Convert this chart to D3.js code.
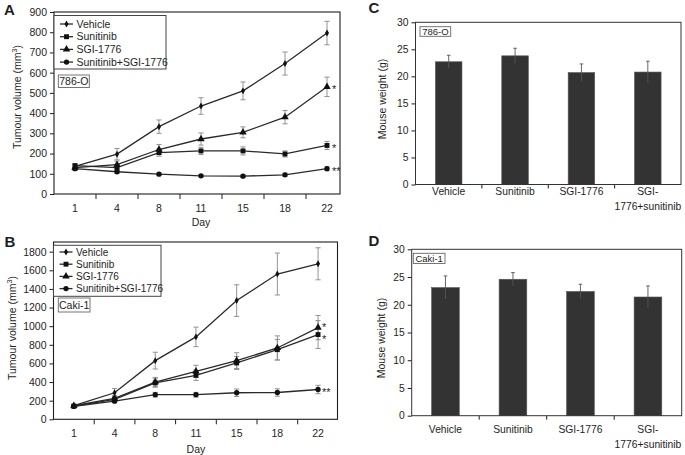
<!DOCTYPE html>
<html><head><meta charset="utf-8">
<script src="https://cdn.jsdelivr.net/npm/d3@7"></script>
<style>
body{margin:0;background:#fff;}
svg{display:block;font-family:"Liberation Sans",Arial,Helvetica,sans-serif;}
</style></head><body>
<svg id="c" width="685" height="455"></svg>
<script>
// ---------- DATA ----------
const days = ["1","4","8","11","15","18","22"];
const seriesNames = ["Vehicle","Sunitinib","SGI-1776","Sunitinib+SGI-1776"];
const tickA = [0,100,200,300,400,500,600,700,800,900];
const tickB = [0,200,400,600,800,1000,1200,1400,1600,1800];
const tickBar = [0,5,10,15,20,25,30];

// Panel A: 786-O tumour volume (mm3)
const aVehicle      = [136,197,333,435,510,645,796];
const aVehicleErr   = [10,28,33,41,44,57,58];
const aSunitinib    = [140,130,205,213,213,198,240];
const aSunitinibErr = [10,14,18,18,20,15,20];
const aSGI          = [130,145,220,272,305,380,530];
const aSGIErr       = [10,18,25,30,27,33,48];
const aCombo        = [125,110,98,90,88,95,125];
const aComboErr     = [8,8,6,6,6,8,10];
const aStars        = ["", "*", "*", "**"];

// Panel B: Caki-1 tumour volume (mm3)
const bVehicle      = [146,285,630,885,1275,1560,1670];
const bVehicleErr   = [15,45,90,105,170,225,172];
const bSunitinib    = [140,215,390,472,605,748,910];
const bSunitinibErr = [15,25,45,55,70,110,150];
const bSGI          = [146,225,400,515,630,766,985];
const bSGIErr       = [15,30,50,65,85,130,130];
const bCombo        = [140,195,264,264,285,288,320];
const bComboErr     = [10,15,25,25,40,40,45];
const bStars        = ["", "*", "*", "**"];

// Panels C/D: mouse weight (g)
const barCategories = ["Vehicle","Sunitinib","SGI-1776","SGI-1776+sunitinib"];
const barLabelLines = [["Vehicle"],["Sunitinib"],["SGI-1776"],["SGI-","1776+sunitinib"]];
const cWeight    = [22.7,23.8,20.7,20.8];
const cWeightErr = [1.2,1.4,1.6,2.0];
const dWeight    = [23.1,24.6,22.4,21.4];
const dWeightErr = [2.1,1.2,1.3,2.0];

// ---------- DRAW ----------
const svg = d3.select("#c");
const INK = "#1e1e1e";
const symbols = [d3.symbolDiamond, d3.symbolSquare, d3.symbolTriangle, d3.symbolCircle];
const symSizes = [14, 24, 24, 22];

function letter(t, x, y){
  svg.append("text").attr("x",x).attr("y",y).attr("font-size",15).attr("font-weight","bold")
    .attr("fill",INK).text(t);
}
function cellBox(t, x, y, w, h, fs){
  svg.append("rect").attr("x",x).attr("y",y).attr("width",w).attr("height",h)
    .attr("fill","#fff").attr("stroke","#666").attr("stroke-width",0.9);
  svg.append("text").attr("x",x+w/2).attr("y",y+h/2+fs*0.36).attr("text-anchor","middle")
    .attr("font-size",fs).attr("fill",INK).text(t);
}
function yLabel(x, y, fs, parts){
  const t = svg.append("text").attr("transform",`translate(${x},${y}) rotate(-90)`)
    .attr("text-anchor","middle").attr("font-size",fs).attr("fill",INK);
  t.append("tspan").text(parts[0]);
  if(parts.length>1){
    t.append("tspan").attr("dy",-4).attr("font-size",fs*0.7).text(parts[1]);
    t.append("tspan").attr("dy",4).text(parts[2]);
  }
}

function linePanel(c){
  const x = d3.scaleBand().domain(days).range([c.left, c.left + c.step*days.length]).padding(0);
  const y = d3.scaleLinear().domain([0,c.yMax]).range([c.bottom, c.top]);
  const cx = d => x(d) + x.bandwidth()/2;
  const g = svg.append("g");

  // y axis
  const ya = g.append("g").attr("transform",`translate(${c.left},0)`)
    .call(d3.axisLeft(y).tickValues(c.yTicks).tickFormat(d3.format("d")).tickSize(4).tickPadding(3).tickSizeOuter(0));
  ya.select(".domain").remove();
  ya.selectAll("line").attr("stroke",INK);
  ya.selectAll("text").attr("font-size",c.fs).attr("fill",INK).attr("font-family",null);

  // x axis labels
  const xa = g.append("g").attr("transform",`translate(0,${c.bottom})`)
    .call(d3.axisBottom(x).tickSize(0).tickPadding(c.xPad));
  xa.select(".domain").remove();
  xa.selectAll("text").attr("font-size",c.fs).attr("fill",INK).attr("font-family",null);
  // x tick marks at band boundaries
  const bounds = days.map(d => x(d)).concat([x.range()[1]]).filter(v => v > c.left+1 && v <= c.right);
  g.selectAll(".xt").data(bounds).join("line")
    .attr("x1",d=>d).attr("x2",d=>d).attr("y1",c.bottom).attr("y2",c.bottom+5)
    .attr("stroke",INK).attr("stroke-width",1);

  // frame
  g.append("rect").attr("x",c.left).attr("y",c.top).attr("width",c.right-c.left).attr("height",c.bottom-c.top)
    .attr("fill","none").attr("stroke",INK).attr("stroke-width",1.1);

  g.append("text").attr("x",(c.left + x.range()[1])/2).attr("y",c.dayY).attr("text-anchor","middle")
    .attr("font-size",c.fs).attr("fill",INK).text("Day");

  // error bars
  c.series.forEach(s => {
    days.forEach((d,i) => {
      const v = s.values[i], e = s.errs[i], X = cx(d);
      g.append("line").attr("x1",X).attr("x2",X).attr("y1",y(v-e)).attr("y2",y(v+e))
        .attr("stroke","#888").attr("stroke-width",0.9);
      [v-e, v+e].forEach(w => g.append("line").attr("x1",X-2.6).attr("x2",X+2.6)
        .attr("y1",y(w)).attr("y2",y(w)).attr("stroke","#888").attr("stroke-width",0.9));
    });
  });
  // lines
  const line = d3.line().x((v,i)=>cx(days[i])).y(v=>y(v));
  c.series.forEach(s => {
    g.append("path").datum(s.values).attr("d",line).attr("fill","none")
      .attr("stroke","#2a2a2a").attr("stroke-width",1.3);
  });
  // markers
  c.series.forEach((s,k) => {
    const sym = d3.symbol().type(symbols[k]).size(symSizes[k]);
    g.selectAll(null).data(s.values).join("path")
      .attr("transform",(v,i)=>`translate(${cx(days[i])},${y(v)})`)
      .attr("d",sym).attr("fill","#111");
  });
  // stars
  c.series.forEach((s,k) => {
    if(!c.stars[k]) return;
    g.append("text").attr("x",cx(days[6])+c.starDx).attr("y",y(s.values[6])+6.5+c.starDy[k])
      .attr("font-size",11).attr("fill",INK).text(c.stars[k]);
  });

  // legend
  const L = c.legend;
  g.append("rect").attr("x",L.x).attr("y",L.y).attr("width",L.w).attr("height",L.h)
    .attr("fill","#fff").attr("stroke","#444").attr("stroke-width",1);
  seriesNames.forEach((n,k) => {
    const ry = L.y + L.first + k*L.gap;
    g.append("line").attr("x1",L.x+6).attr("x2",L.x+19).attr("y1",ry).attr("y2",ry)
      .attr("stroke","#2a2a2a").attr("stroke-width",1.3);
    g.append("path").attr("transform",`translate(${L.x+12.5},${ry})`)
      .attr("d",d3.symbol().type(symbols[k]).size(symSizes[k])).attr("fill","#111");
    g.append("text").attr("x",L.x+22.5).attr("y",ry+c.legFs*0.36).attr("font-size",c.legFs)
      .attr("fill",INK).text(n);
  });
}

function barPanel(c){
  const x = d3.scaleBand().domain(barCategories).range([c.left,c.right]).padding(0);
  const y = d3.scaleLinear().domain([0,30]).range([c.bottom,c.top]);
  const g = svg.append("g");
  const ya = g.append("g").attr("transform",`translate(${c.left},0)`)
    .call(d3.axisLeft(y).tickValues(tickBar).tickSize(4).tickPadding(3).tickSizeOuter(0));
  ya.select(".domain").remove();
  ya.selectAll("line").attr("stroke",INK);
  ya.selectAll("text").attr("font-size",c.fs).attr("fill",INK).attr("font-family",null);

  const bounds = barCategories.map(d => x(d)).filter(v => v > c.left+1);
  g.selectAll(".xt").data(bounds).join("line")
    .attr("x1",d=>d).attr("x2",d=>d).attr("y1",c.bottom).attr("y2",c.bottom+4)
    .attr("stroke",INK);

  const bw = x.bandwidth()*c.barFrac;
  g.selectAll(".bar").data(c.values).join("rect")
    .attr("x",(v,i)=>x(barCategories[i])+x.bandwidth()/2-bw/2)
    .attr("y",v=>y(v)).attr("width",bw).attr("height",v=>y(0)-y(v))
    .attr("fill","#333").attr("stroke","#555").attr("stroke-width",0.6);
  c.values.forEach((v,i) => {
    const X = x(barCategories[i])+x.bandwidth()/2, e = c.errs[i];
    g.append("line").attr("x1",X).attr("x2",X).attr("y1",y(v-e)).attr("y2",y(v+e))
      .attr("stroke","#555").attr("stroke-width",0.9);
    g.append("line").attr("x1",X-1.8).attr("x2",X+1.8).attr("y1",y(v+e)).attr("y2",y(v+e))
      .attr("stroke","#555").attr("stroke-width",0.9);
  });

  g.append("rect").attr("x",c.left).attr("y",c.top).attr("width",c.right-c.left).attr("height",c.bottom-c.top)
    .attr("fill","none").attr("stroke","#333").attr("stroke-width",1);

  barLabelLines.forEach((lines,i) => {
    const X = x(barCategories[i])+x.bandwidth()/2;
    lines.forEach((t,j) => g.append("text").attr("x",X).attr("y",c.labY + j*14.5)
      .attr("text-anchor","middle").attr("font-size",c.fs).attr("fill",INK).text(t));
  });
}

// Panel A
linePanel({
  left:54, right:340, top:12, bottom:194, step:42, yMax:900, yTicks:tickA, fs:10.5, legFs:10.5,
  xPad:11, dayY:225.5, starDx:5, starDy:[0,0,0,0],
  series:[{values:aVehicle,errs:aVehicleErr},{values:aSunitinib,errs:aSunitinibErr},
          {values:aSGI,errs:aSGIErr},{values:aCombo,errs:aComboErr}],
  stars:aStars,
  legend:{x:54,y:15.5,w:112,h:53.5,first:8.5,gap:12.7}
});
// Panel B
linePanel({
  left:53.5, right:337.5, top:242, bottom:419.3, step:40.7, yMax:1904, yTicks:tickB, fs:10.5, legFs:10,
  xPad:10.5, dayY:452.7, starDx:4, starDy:[0,2,-3,0],
  series:[{values:bVehicle,errs:bVehicleErr},{values:bSunitinib,errs:bSunitinibErr},
          {values:bSGI,errs:bSGIErr},{values:bCombo,errs:bComboErr}],
  stars:bStars,
  legend:{x:53.5,y:245.3,w:107.5,h:51,first:6.7,gap:12.2}
});
barPanel({left:415.5, right:681, top:22.3, bottom:184.5, values:cWeight, errs:cWeightErr, fs:10.3, labY:195.4, barFrac:0.4});
barPanel({left:411.7, right:681.7, top:249.3, bottom:415.7, values:dWeight, errs:dWeightErr, fs:10.3, labY:433, barFrac:0.41});

cellBox("786-O", 58.3, 75, 31, 12.5, 10.5);
cellBox("Caki-1", 58.3, 298, 31.7, 14, 10.5);
cellBox("786-O", 420, 26.7, 30.7, 9.6, 9.5);
cellBox("Caki-1", 413.3, 253.3, 31.7, 10.2, 9.5);

yLabel(20.7, 97, 10.5, ["Tumour volume (mm","3",")"]);
yLabel(15.5, 328, 10.5, ["Tumour volume (mm","3",")"]);
yLabel(386.2, 99, 10.5, ["Mouse weight (g)"]);
yLabel(384.7, 338, 10.5, ["Mouse weight (g)"]);

letter("A", 4, 14.5);
letter("B", 4.5, 247);
letter("C", 368.5, 13);
letter("D", 368.5, 246);
</script>
</body></html>
